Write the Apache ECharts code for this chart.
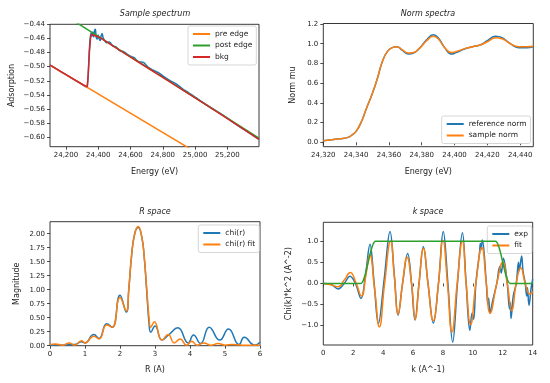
<!DOCTYPE html>
<html>
<head>
<meta charset="utf-8">
<script src="https://cdn.jsdelivr.net/npm/echarts@6.0.0/dist/echarts.min.js"></script>
<style>
html,body{margin:0;padding:0;background:#fff;}
#chart{width:550px;height:383px;}
</style>
</head>
<body>
<div id="chart"></div>
<script>
// ---------- Panel 1: Sample spectrum ----------
const p1Data = [[24101,-0.4975],[24150,-0.5044],[24200,-0.5114],[24250,-0.5182],[24300,-0.5250],[24325,-0.5285],[24332,-0.527],[24338,-0.51],[24344,-0.48],[24350,-0.46],[24356,-0.452],[24361,-0.457],[24366,-0.451],[24371,-0.458],[24377,-0.449],[24382,-0.447],[24387,-0.458],[24393,-0.461],[24399,-0.455],[24405,-0.46],[24412,-0.463],[24418,-0.456],[24424,-0.453],[24430,-0.459],[24440,-0.463],[24450,-0.466],[24470,-0.465],[24490,-0.471],[24510,-0.472],[24530,-0.477],[24560,-0.479],[24590,-0.484],[24620,-0.487],[24650,-0.493],[24680,-0.494],[24710,-0.501],[24740,-0.505],[24770,-0.508],[24800,-0.513],[24840,-0.519],[24880,-0.524],[24920,-0.531],[24960,-0.537],[25000,-0.543],[25050,-0.551],[25100,-0.5585],[25150,-0.5655],[25200,-0.573],[25250,-0.581],[25300,-0.5885],[25350,-0.596],[25396,-0.603]];
const p1PreEdge = [[24101,-0.4977],[25000,-0.6205]];
const p1PostEdge = [[24250,-0.4354],[25396,-0.601]];
const p1Bkg = [[24101,-0.4977],[24200,-0.5112],[24300,-0.5249],[24332,-0.5285],[24338,-0.51],[24345,-0.48],[24352,-0.46],[24358,-0.4545],[24370,-0.4545],[24400,-0.4575],[24450,-0.4645],[24500,-0.472],[24600,-0.4865],[24700,-0.5008],[24800,-0.5152],[24900,-0.5298],[25000,-0.5442],[25100,-0.5588],[25200,-0.5735],[25300,-0.5885],[25396,-0.603]];
const p1XTicks = [24200,24400,24600,24800,25000,25200];
const p1YTicks = [-0.60,-0.58,-0.56,-0.54,-0.52,-0.50,-0.48,-0.46,-0.44];

// ---------- Panel 2: Norm spectra ----------
const p2Reference = [[24320,0.015],[24330,0.035],[24335,0.05],[24338,0.08],[24340,0.11],[24343,0.2],[24346,0.33],[24350,0.5],[24353,0.65],[24356,0.82],[24359,0.92],[24362,0.96],[24365,0.97],[24368,0.935],[24372,0.895],[24375,0.905],[24379,0.96],[24383,1.04],[24387,1.09],[24390,1.06],[24394,0.96],[24398,0.895],[24401,0.91],[24406,0.945],[24411,0.97],[24416,0.99],[24420,1.03],[24425,1.075],[24429,1.06],[24434,1.0],[24439,0.96],[24444,0.96],[24448,0.97]];
const p2Sample = [[24320,0.015],[24330,0.035],[24335,0.05],[24338,0.08],[24340,0.11],[24343,0.2],[24346,0.33],[24350,0.5],[24353,0.65],[24356,0.82],[24359,0.92],[24362,0.96],[24365,0.97],[24368,0.94],[24372,0.905],[24375,0.91],[24379,0.96],[24383,1.03],[24387,1.075],[24390,1.05],[24394,0.96],[24398,0.91],[24401,0.92],[24406,0.95],[24411,0.97],[24416,0.99],[24420,1.02],[24425,1.06],[24429,1.05],[24434,1.0],[24439,0.97],[24444,0.97],[24448,0.975]];
const p2XTicks = [24320,24340,24360,24380,24400,24420,24440];
const p2YTicks = [0,0.2,0.4,0.6,0.8,1.0,1.2];

// ---------- Panel 3: R space ----------
const p3Chi = [[0,0.01],[0.2,0.015],[0.4,0.01],[0.55,0.02],[0.7,0.02],[0.9,0.07],[1.0,0.05],[1.25,0.2],[1.4,0.13],[1.62,0.39],[1.78,0.33],[2.0,0.9],[2.18,0.6],[2.25,1.0],[2.33,1.6],[2.42,2.0],[2.52,2.11],[2.62,1.95],[2.69,1.6],[2.76,1.0],[2.83,0.4],[2.88,0.24],[3.0,0.35],[3.2,0.1],[3.4,0.2],[3.65,0.32],[3.95,0.05],[4.1,0.19],[4.3,0.04],[4.55,0.33],[4.85,0.1],[5.1,0.3],[5.4,0.02],[5.55,0.15],[5.85,0.01],[6,0.06]];
const p3Fit = [[0,0.02],[0.15,0.03],[0.35,0.01],[0.55,0.05],[0.7,0.01],[0.9,0.09],[1.0,0.05],[1.25,0.17],[1.4,0.12],[1.62,0.37],[1.78,0.33],[2.0,0.86],[2.18,0.62],[2.25,1.0],[2.33,1.6],[2.42,2.0],[2.52,2.13],[2.62,1.95],[2.69,1.6],[2.76,1.05],[2.83,0.5],[2.88,0.33],[2.98,0.43],[3.2,0.1],[3.38,0.2],[3.55,0.05],[3.72,0.12],[3.9,0.01],[4.05,0.08],[4.2,0.01],[4.4,0.05],[4.6,0.01],[4.8,0.04],[5.0,0.01],[5.2,0.02],[5.5,0.01],[6,0.01]];
const p3XTicks = [0,1,2,3,4,5,6];
const p3YTicks = [0,0.25,0.5,0.75,1.0,1.25,1.5,1.75,2.0];

// ---------- Panel 4: k space ----------
const p4Exp = [[0,0],[0.5,-0.02],[1.0,-0.13],[1.4,0.0],[1.78,0.17],[2.15,0],[2.52,-0.36],[2.82,0.2],[3.12,0.93],[3.4,0.0],[3.68,-0.95],[4.07,0.1],[4.46,1.23],[4.75,0.2],[5.0,-0.75],[5.3,0.0],[5.64,0.71],[5.9,0],[6.13,-0.87],[6.4,0],[6.69,0.87],[7.0,0],[7.36,-0.94],[7.7,0],[8.02,1.23],[8.33,0],[8.65,-1.39],[8.97,0],[9.3,1.2],[9.55,0],[9.8,-1.11],[9.95,-0.7],[10.05,-0.85],[10.2,0],[10.45,0.75],[10.5,0.95],[10.55,0.8],[10.63,1.03],[10.9,0],[11.0,-0.5],[11.05,-0.35],[11.15,-0.71],[11.3,-0.45],[11.6,0],[11.8,0.4],[11.9,0.25],[12.04,0.6],[12.3,0],[12.45,-0.6],[12.5,-0.45],[12.55,-0.83],[12.7,-0.3],[12.9,0],[13.05,0.5],[13.1,0.3],[13.26,0.65],[13.35,0.3],[13.5,0],[13.6,-0.3],[13.65,-0.1],[13.75,-0.52],[13.9,-0.1],[14,0.1]];
const p4Fit = [[0,0],[0.5,-0.03],[1.0,-0.08],[1.4,0.08],[1.8,0.26],[2.2,0.0],[2.55,-0.3],[2.85,0.2],[3.1,0.68],[3.45,-0.2],[3.75,-1.03],[4.1,0.0],[4.5,1.0],[4.75,0.15],[5.0,-0.73],[5.3,0],[5.6,0.62],[5.9,0],[6.15,-0.85],[6.4,0],[6.7,0.82],[7.0,0],[7.35,-0.88],[7.7,0],[8.0,1.02],[8.3,0],[8.6,-1.15],[8.95,0],[9.3,1.0],[9.55,0],[9.85,-0.97],[10.2,0],[10.6,0.85],[10.9,0],[11.15,-0.7],[11.6,0],[12.0,0.5],[12.3,0],[12.6,-0.65],[12.9,0],[13.2,0.37],[13.5,0],[13.8,-0.25],[14,-0.2]];
const p4Window = [[0,0],[2.5,0],[2.75,0.15],[3.0,0.5],[3.25,0.85],[3.5,1],[11.5,1],[11.75,0.85],[12.0,0.5],[12.25,0.15],[12.5,0],[14,0]];
const p4XTicks = [0,2,4,6,8,10,12,14];
const p4YTicks = [-1,-0.5,0,0.5,1];

// ---------- styling helpers ----------
const FONT = 'DejaVu Sans';
const C = {blue:'#1f77b4', orange:'#ff7f0e', green:'#2ca02c', red:'#d62728'};
const minus = s => s.replace('-', '\u2212');
const comma = v => String(v).replace(/\B(?=(\d{3})+(?!\d))/g, ',');

function ax(gi, min, max, ticks, fmt, name, gap) {
  return {
    type:'value', gridIndex:gi, min:min, max:max,
    name:name, nameLocation:'middle', nameGap:gap,
    nameTextStyle:{fontFamily:FONT, fontSize:8, color:'#222'},
    axisLine:{show:false}, splitLine:{show:false},
    axisTick:{show:true, length:3, customValues:ticks, lineStyle:{color:'#222', width:0.8}},
    axisLabel:{customValues:ticks, formatter:fmt, fontFamily:FONT, fontSize:7, color:'#222', margin:5, hideOverlap:false}
  };
}
function line(name, gi, data, color, smooth, z) {
  return {
    type:'line', name:name, xAxisIndex:gi, yAxisIndex:gi, data:data,
    showSymbol:false, symbol:'none', smooth:smooth, clip:true, z:z||2,
    lineStyle:{color:color, width:1.5}, itemStyle:{color:color}
  };
}
function legend(names, left, top, bg) {
  return {
    data:names, orient:'vertical', left:left, top:top,
    icon:'rect', itemWidth:17, itemHeight:2, itemGap:1.5,
    padding:[3,4,3,5], selectedMode:false,
    backgroundColor:bg||'#fff', borderColor:'#cccccc', borderWidth:0.8, borderRadius:2,
    textStyle:{fontFamily:FONT, fontSize:7.5, color:'#222', lineHeight:10}
  };
}
function title(text, left, top) {
  return {text:text, left:left, top:top, textAlign:'center', padding:0,
    textStyle:{fontFamily:FONT, fontSize:8, fontStyle:'italic', fontWeight:'normal', color:'#222', lineHeight:10}};
}
const gridBox = {show:true, borderColor:'#222', borderWidth:0.9, backgroundColor:'transparent', containLabel:false};

const option = {
  animation:false,
  backgroundColor:'#fff',
  title:[
    title('Sample spectrum', 155, 8.5),
    title('Norm spectra', 428, 8.5),
    title('R space', 155, 206.5),
    title('k space', 428, 206.5)
  ],
  grid:[
    Object.assign({left:50, top:24.3, width:209, height:122.4}, gridBox),
    Object.assign({left:323.3, top:23.5, width:210, height:123.2}, gridBox),
    Object.assign({left:50, top:221.7, width:210, height:124}, gridBox),
    Object.assign({left:323.3, top:222.3, width:209.4, height:122.7}, gridBox)
  ],
  xAxis:[
    ax(0, 24101, 25396, p1XTicks, comma, 'Energy (eV)', 21),
    ax(1, 24320, 24448, p2XTicks, comma, 'Energy (eV)', 21),
    ax(2, 0, 6, p3XTicks, v => String(v), 'R (A)', 20.5),
    ax(3, 0, 14, p4XTicks, v => String(v), 'k (A^-1)', 21)
  ],
  yAxis:[
    ax(0, -0.6133, -0.44, p1YTicks, v => minus(v.toFixed(2)), 'Adsorption', 34),
    ax(1, -0.045, 1.205, p2YTicks, v => v.toFixed(1), 'Norm mu', 26),
    ax(2, 0, 2.215, p3YTicks, v => v.toFixed(2), 'Magnitude', 29),
    ax(3, -1.46, 1.45, p4YTicks, v => minus(v.toFixed(1)), 'Chi(k)*k^2 (A^-2)', 30)
  ],
  legend:[
    legend(['pre edge','post edge','bkg'], 188, 26),
    legend(['reference norm','sample norm'], 441.7, 116),
    legend(['chi(r)','chi(r) fit'], 198.3, 225),
    legend(['exp','fit'], 487.3, 226, 'rgba(255,255,255,0.8)')
  ],
  series:[
    line('data', 0, p1Data, C.blue, 0.3, 2),
    line('pre edge', 0, p1PreEdge, C.orange, false, 3),
    line('post edge', 0, p1PostEdge, C.green, false, 4),
    line('bkg', 0, p1Bkg, C.red, false, 5),
    line('reference norm', 1, p2Reference, C.blue, 0.5, 2),
    line('sample norm', 1, p2Sample, C.orange, 0.5, 3),
    line('chi(r)', 2, p3Chi, C.blue, 0.5, 2),
    line('chi(r) fit', 2, p3Fit, C.orange, 0.5, 3),
    line('exp', 3, p4Exp, C.blue, 0.4, 2),
    line('fit', 3, p4Fit, C.orange, 0.5, 3),
    line('window', 3, p4Window, C.green, 0.3, 4)
  ]
};
const chart = echarts.init(document.getElementById('chart'), null, {renderer:'canvas'});
chart.setOption(option);
</script>
</body>
</html>
